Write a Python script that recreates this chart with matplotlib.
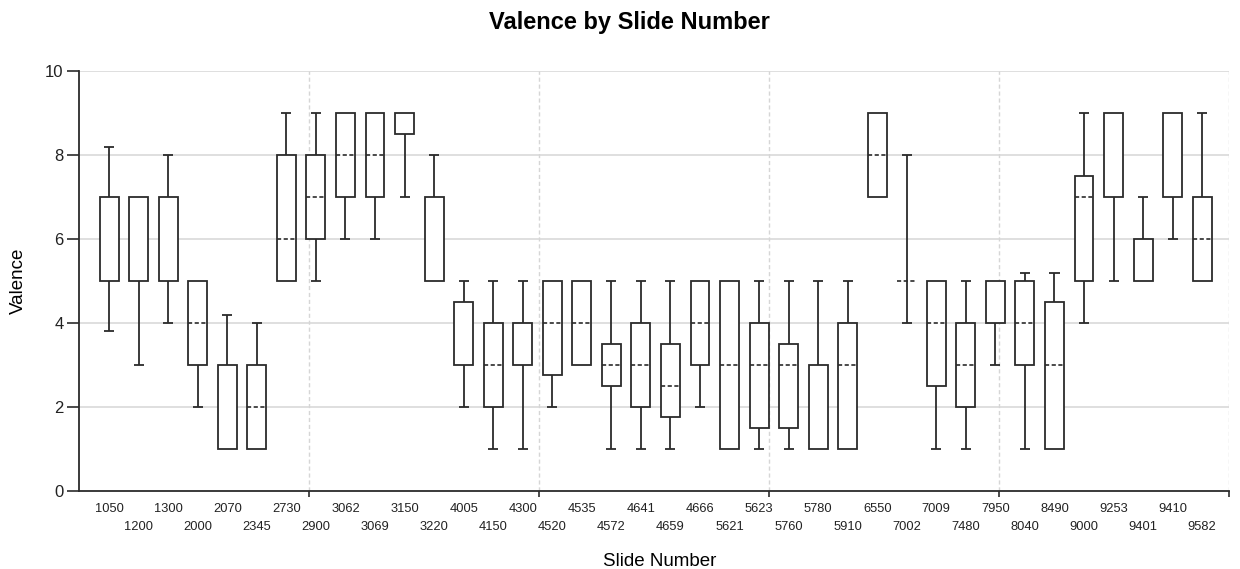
import numpy as np
import matplotlib
matplotlib.use("Agg")
import matplotlib.pyplot as plt

plt.rcParams['font.family'] = ['Liberation Sans', 'DejaVu Sans']

# slide numbers, in plotted order
slides = ['1050', '1200', '1300', '2000', '2070', '2345', '2730', '2900', '3062', '3069',
          '3150', '3220', '4005', '4150', '4300', '4520', '4535', '4572', '4641', '4659',
          '4666', '5621', '5623', '5760', '5780', '5910', '6550', '7002', '7009', '7480',
          '7950', '8040', '8490', '9000', '9253', '9401', '9410', '9582']

# box statistics
q1 = [5, 5, 5, 3, 1, 1, 5, 6, 7, 7,
      8.5, 5, 3, 2, 3, 2.75, 3, 2.5, 2, 1.75,
      3, 1, 1.5, 1.5, 1, 1, 7, 5, 2.5, 2,
      4, 3, 1, 5, 7, 5, 7, 5]
med = [5, 5, 5, 4, 1, 2, 6, 7, 8, 8,
       8.5, 5, 3, 3, 3, 4, 4, 3, 3, 2.5,
       4, 3, 3, 3, 1, 3, 8, 5, 4, 3,
       4, 4, 3, 7, 7, 5, 7, 6]
q3 = [7, 7, 7, 5, 3, 3, 8, 8, 9, 9,
      9, 7, 4.5, 4, 4, 5, 5, 3.5, 4, 3.5,
      5, 5, 4, 3.5, 3, 4, 9, 5, 5, 4,
      5, 5, 4.5, 7.5, 9, 6, 9, 7]
lo = [3.8, 3, 4, 2, 1, 1, 5, 5, 6, 6,
      7, 5, 2, 1, 1, 2, 3, 1, 1, 1,
      2, 1, 1, 1, 1, 1, 7, 4, 1, 1,
      3, 1, 1, 4, 5, 5, 6, 5]
hi = [8.2, 7, 8, 5, 4.2, 4, 9, 9, 9, 9,
      9, 8, 5, 5, 5, 5, 5, 5, 5, 5,
      5, 5, 5, 5, 5, 5, 9, 8, 5, 5,
      5, 5.2, 5.2, 9, 9, 7, 9, 9]

ink = '#2b2b2b'
x = np.arange(1, len(slides) + 1)
q1 = np.array(q1); q3 = np.array(q3); med = np.array(med)
lo = np.array(lo); hi = np.array(hi)

fig = plt.figure(figsize=(12.4, 5.69), dpi=100)
ax = fig.add_axes([0.0637, 0.1371, 0.9275, 0.7381])

x0, x1 = -0.02, 38.91
ax.set_xlim(x0, x1)
ax.set_ylim(0, 10)

# grid: horizontal solid, vertical dashed at fifths of the axis
for v in [2, 4, 6, 8, 10]:
    ax.axhline(v, color='#d9d9d9', lw=1.2, zorder=0)
vg = [x0 + f * (x1 - x0) for f in [0.2, 0.4, 0.6, 0.8, 1.0]]
for v in vg:
    ax.axvline(v, color='#d6d6d6', lw=1.0, ls=(0, (3, 2)), zorder=0)

bw = 0.64
cw = 0.34
# boxes
h = q3 - q1
has_box = h > 0
ax.bar(x[has_box], h[has_box], bottom=q1[has_box], width=bw, facecolor='white',
       edgecolor=ink, linewidth=1.3, zorder=3)
# whiskers
ax.vlines(x, lo, q1, color=ink, lw=1.3, zorder=2)
ax.vlines(x, q3, hi, color=ink, lw=1.3, zorder=2)
lc = lo < q1
hc = hi > q3
ax.hlines(lo[lc], x[lc] - cw / 2, x[lc] + cw / 2, color=ink, lw=1.3, zorder=2)
ax.hlines(hi[hc], x[hc] - cw / 2, x[hc] + cw / 2, color=ink, lw=1.3, zorder=2)
# medians (dashed), only where visible
mv = ((med > q1) & (med < q3)) | (~has_box)
ax.hlines(med[mv], x[mv] - bw / 2, x[mv] + bw / 2, color=ink, lw=1.2,
          linestyles=(0, (2.5, 1.5)), zorder=4)

# spines
for s in ['top', 'right']:
    ax.spines[s].set_visible(False)
for s in ['left', 'bottom']:
    ax.spines[s].set_color(ink)
    ax.spines[s].set_linewidth(1.3)

ax.set_yticks([0, 2, 4, 6, 8, 10])
ax.tick_params(axis='y', length=9, width=1.2, color=ink, labelsize=12,
               labelcolor='#222222', pad=2)

ax.set_xticks(vg)
ax.set_xticklabels([])
ax.tick_params(axis='x', which='major', length=4, width=1.2, color=ink)
ax.set_xticks(x, minor=True)
ax.set_xticklabels([s if i % 2 == 0 else '\n' + s for i, s in enumerate(slides)],
                   minor=True, fontsize=9.3, linespacing=1.65, color='#222222')
ax.tick_params(axis='x', which='minor', length=0, pad=8.5)

ax.set_ylabel('Valence', fontsize=13.5)
ax.yaxis.set_label_coords(-0.045, 0.5)
ax.set_xlabel('Slide Number', fontsize=13.5)
ax.xaxis.set_label_coords(0.5045, -0.147)
fig.text(0.508, 0.961, 'Valence by Slide Number', ha='center', va='center',
         fontsize=17, fontweight='bold')

fig.savefig('out.png', dpi=100)
